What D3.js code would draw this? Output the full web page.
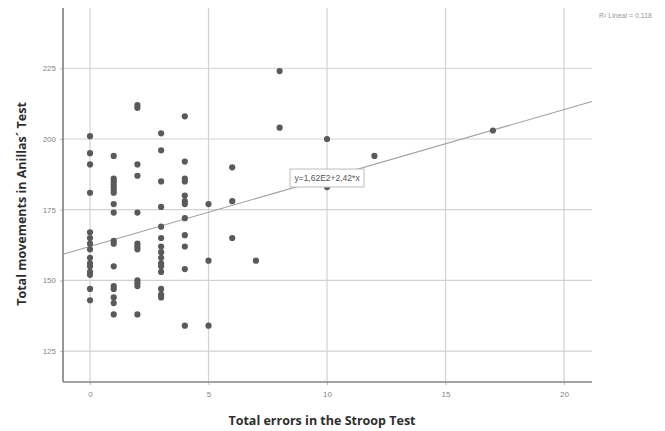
<!DOCTYPE html>
<html>
<head>
<meta charset="utf-8">
<script src="https://cdn.jsdelivr.net/npm/d3@7"></script>
<style>
  body { margin: 0; background: #fff; }
  .grid line { stroke: #d2d2d2; stroke-width: 1.2; }
  .axisLine { stroke: #858585; stroke-width: 1.7; }
  .tickLabel { font-family: "Liberation Sans Narrow", "Liberation Sans", sans-serif; font-size: 8px; fill: #858585; }
  .axisTitle { font-family: "Open Sans", sans-serif; font-weight: 700; font-size: 12.5px; fill: #2e2e2e; }
  .dot { fill: #5a5a5a; }
  .fitLine { stroke: #a0a0a0; stroke-width: 1.1; fill: none; }
</style>
</head>
<body>
<script>
(function(){
  // data (x = Stroop errors, y = Anillas movements)
  var stroopErrors = [
    0,0,0,0,0,0,0,0,0,0,0,0,0,0,0,
    1,1,1,1,1,1,1,1,1,1,1,1,1,1,1,1,1,
    2,2,2,2,2,2,2,2,2,2,2,2,
    3,3,3,3,3,3,3,3,3,3,3,3,3,3,3,
    4,4,4,4,4,4,4,4,4,4,4,4,
    5,5,5,
    6,6,6,
    7,
    8,8,
    10,10,
    12,
    17
  ];
  var anillasMoves = [
    201,195,191,181,167,165,163,161,158,156,155,153,152,147,143,
    194,186,185,184,183,182,181,177,174,164,163,155,148,147,144,142,138,
    212,211,191,187,174,163,162,161,150,149,148,138,
    202,196,185,176,169,165,162,160,158,156,155,153,147,145,144,
    208,192,186,185,180,178,177,172,166,162,154,134,
    177,157,134,
    190,178,165,
    157,
    224,204,
    200,183,
    194,
    203
  ];
  var xTicks = [0, 5, 10, 15, 20];
  var yTicks = [125, 150, 175, 200, 225];
  // linear fit from the chart label
  var fitIntercept = 162, fitSlope = 2.42;
  var fitLabel = "y=1,62E2+2,42*x";
  var r2Label = "R² Lineal = 0,118";

  var width = 665, height = 431;
  var left = 63, right = 592, top = 8, bottom = 382;

  var svg = d3.select("body").append("svg")
    .attr("width", width)
    .attr("height", height);

  var x = d3.scaleLinear().domain([-1.14, 21.18]).range([left, right]);
  var y = d3.scaleLinear().domain([114.1, 246.3]).range([bottom, top]);

  // gridlines
  var grid = svg.append("g").attr("class", "grid");
  grid.selectAll(".h").data(yTicks).enter().append("line")
    .attr("x1", left).attr("x2", right)
    .attr("y1", function(d){ return y(d); })
    .attr("y2", function(d){ return y(d); });
  grid.selectAll(".v").data(xTicks).enter().append("line")
    .attr("y1", top).attr("y2", bottom)
    .attr("x1", function(d){ return x(d); })
    .attr("x2", function(d){ return x(d); });

  // axes (SPSS style)
  var xAxis = svg.append("g").attr("transform", "translate(0," + bottom + ")")
    .call(d3.axisBottom(x).tickValues(xTicks).tickSize(3).tickPadding(6));
  var yAxis = svg.append("g").attr("transform", "translate(" + left + ",0)")
    .call(d3.axisLeft(y).tickValues(yTicks).tickSize(3).tickPadding(4));
  [xAxis, yAxis].forEach(function(ax){
    ax.select(".domain").remove();
    ax.selectAll(".tick line").attr("stroke", "#bbb");
    ax.selectAll(".tick text").attr("class", "tickLabel").attr("fill", null);
  });

  svg.append("line").attr("class", "axisLine")
    .attr("x1", left).attr("x2", left).attr("y1", top).attr("y2", bottom);
  svg.append("line").attr("class", "axisLine")
    .attr("x1", left).attr("x2", right).attr("y1", bottom).attr("y2", bottom);

  // fit line
  var xd = x.domain();
  svg.append("line").attr("class", "fitLine")
    .attr("x1", x(xd[0])).attr("y1", y(fitIntercept + fitSlope * xd[0]))
    .attr("x2", x(xd[1])).attr("y2", y(fitIntercept + fitSlope * xd[1]));

  // points
  svg.selectAll(".dot").data(anillasMoves).enter().append("circle")
    .attr("class", "dot")
    .attr("r", 3.1)
    .attr("cx", function(d, i){ return x(stroopErrors[i]); })
    .attr("cy", function(d){ return y(d); });

  // fit equation label, sits on the line at x = 10
  var lx = x(10), ly = y(fitIntercept + fitSlope * 10);
  var lab = svg.append("g").attr("transform", "translate(" + lx + "," + ly + ")");
  lab.append("rect")
    .attr("x", -37).attr("y", -9).attr("width", 74).attr("height", 18)
    .attr("fill", "#fff").attr("stroke", "#bdbdbd").attr("stroke-width", 1);
  lab.append("text").attr("class", "tickLabel")
    .attr("text-anchor", "middle").attr("dy", "0.35em")
    .style("fill", "#555").style("font-size", "8.5px")
    .text(fitLabel);

  // R2 note
  svg.append("text").attr("class", "tickLabel")
    .attr("x", 652).attr("y", 18)
    .attr("text-anchor", "end")
    .style("font-size", "7px").style("fill", "#999")
    .text(r2Label);

  // axis titles
  svg.append("text").attr("class", "axisTitle")
    .attr("x", 322).attr("y", 425)
    .attr("text-anchor", "middle")
    .text("Total errors in the Stroop Test");
  svg.append("text").attr("class", "axisTitle")
    .attr("transform", "translate(26,204) rotate(-90)")
    .attr("text-anchor", "middle")
    .text("Total movements in Anillas\u00b4 Test");
})();
</script>
</body>
</html>
